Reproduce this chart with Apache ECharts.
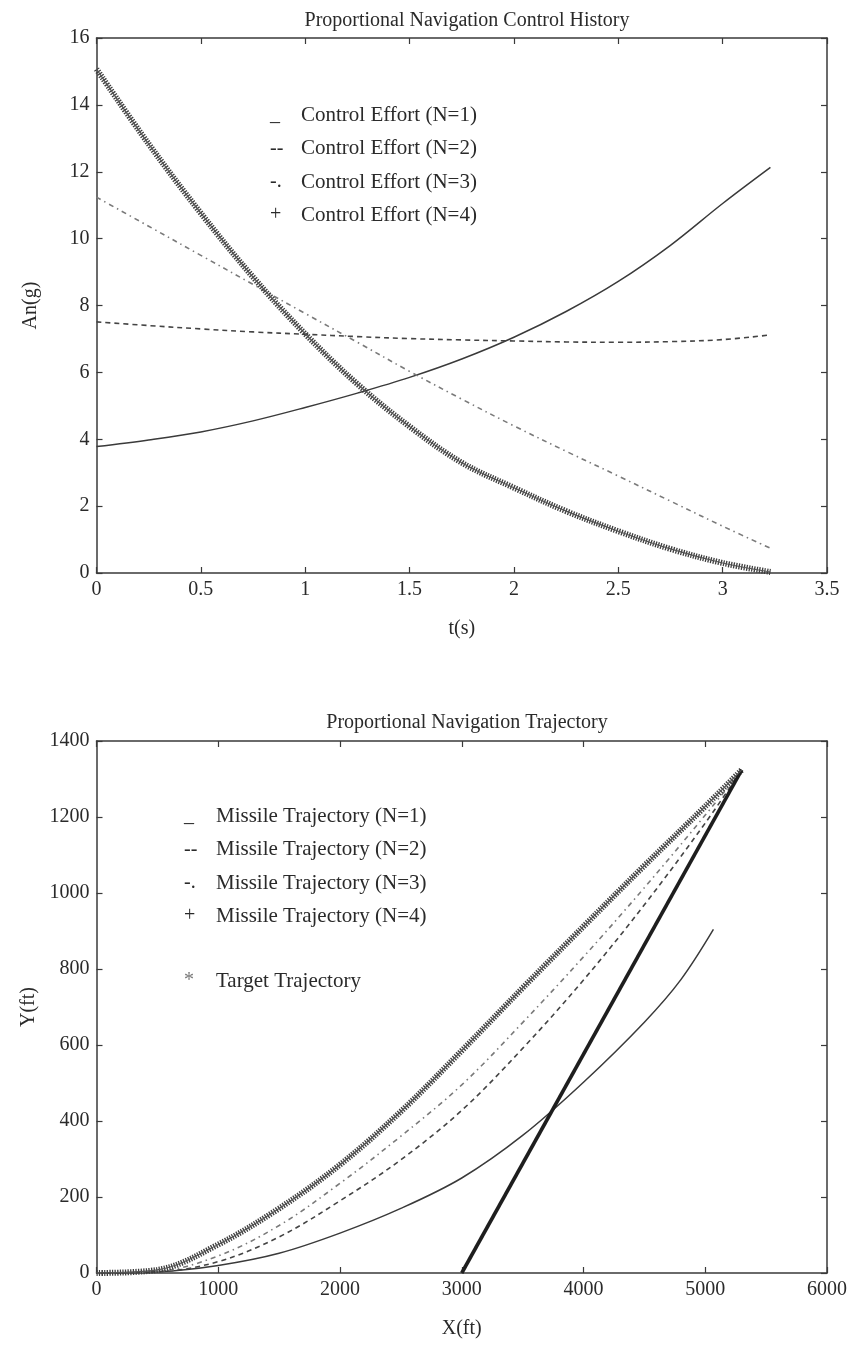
<!DOCTYPE html>
<html>
<head>
<meta charset="utf-8">
<script src="https://cdn.jsdelivr.net/npm/echarts@6/dist/echarts.min.js"></script>
<style>
  html, body { margin: 0; padding: 0; background: #fff; }
  #chart { width: 847px; height: 1353px; }
</style>
</head>
<body>
<div id="chart"></div>
<script>
// ---- Control history: time (s) and commanded acceleration An (g) per navigation ratio
const timeS = [0, 0.25, 0.5, 0.75, 1.0, 1.25, 1.5, 1.75, 2.0, 2.25, 2.5, 2.75, 3.0, 3.229];
const anN1 = [3.78, 3.98, 4.22, 4.55, 4.95, 5.38, 5.85, 6.4, 7.05, 7.82, 8.72, 9.8, 11.05, 12.13];
const anN2 = [7.51, 7.4, 7.3, 7.21, 7.14, 7.07, 7.01, 6.97, 6.94, 6.91, 6.9, 6.92, 6.98, 7.12];
const anN3 = [11.24, 10.37, 9.5, 8.63, 7.76, 6.9, 6.03, 5.2, 4.4, 3.64, 2.9, 2.15, 1.4, 0.74];
const anN4 = [15.07, 12.83, 10.76, 8.85, 7.15, 5.65, 4.38, 3.3, 2.55, 1.85, 1.25, 0.72, 0.3, 0.03];

// ---- Trajectories: X (ft) / Y (ft)
const missileX = [0, 500, 1000, 1500, 2000, 2500, 3000, 3500, 4000, 4500, 5000, 5300];
const missileN1X = [0, 500, 1000, 1500, 2000, 2500, 3000, 3500, 4000, 4500, 4800, 5067];
const missileN1Y = [0, 3, 20, 52, 105, 170, 250, 362, 502, 660, 772, 904];
const missileN2Y = [0, 3, 30, 95, 190, 298, 428, 591, 771, 969, 1184, 1324];
const missileN3Y = [0, 4, 45, 125, 236, 360, 495, 659, 832, 1014, 1205, 1324];
const missileN4Y = [0, 8, 75, 170, 285, 425, 585, 750, 912, 1072, 1228, 1324];
const targetX = [3000, 5300];
const targetY = [0, 1324];

// ---- Axis ticks
const tAxis = { min: 0, max: 3.5, step: 0.5 };
const anAxis = { min: 0, max: 16, step: 2 };
const xftAxis = { min: 0, max: 6000, step: 1000 };
const yftAxis = { min: 0, max: 1400, step: 200 };

const legendTop = ['_', '--', '-.', '+'];
const legendTopText = ['Control Effort (N=1)', 'Control Effort (N=2)', 'Control Effort (N=3)', 'Control Effort (N=4)'];
const legendBottom = ['_', '--', '-.', '+', '*'];
const legendBottomText = ['Missile Trajectory (N=1)', 'Missile Trajectory (N=2)', 'Missile Trajectory (N=3)', 'Missile Trajectory (N=4)', 'Target Trajectory'];

const FONT = '"Liberation Serif", "Times New Roman", serif';
const INK = '#2a2a2a';

const zip = (xs, ys) => xs.map((x, i) => [x, ys[i]]);

function mainAxis(pos, grid, range, name, nameGap, extra) {
  return Object.assign({
    type: 'value', gridIndex: grid, position: pos,
    min: range.min, max: range.max, interval: range.step,
    name: name, nameLocation: 'middle', nameGap: nameGap,
    nameTextStyle: { fontFamily: FONT, fontSize: 20, color: INK },
    axisLine: { show: true, onZero: false, lineStyle: { color: '#3a3a3a', width: 1.5 } },
    axisTick: { show: true, inside: true, length: 6, lineStyle: { color: '#3a3a3a', width: 1.2 } },
    axisLabel: { show: true, fontFamily: FONT, fontSize: 20, color: INK, margin: 7,
                 formatter: v => String(v) },
    splitLine: { show: false }
  }, extra || {});
}
function mirrorAxis(pos, grid, range) {
  return {
    type: 'value', gridIndex: grid, position: pos,
    min: range.min, max: range.max, interval: range.step,
    axisLine: { show: true, onZero: false, lineStyle: { color: '#3a3a3a', width: 1.5 } },
    axisTick: { show: true, inside: true, length: 6, lineStyle: { color: '#3a3a3a', width: 1.2 } },
    axisLabel: { show: false },
    splitLine: { show: false }
  };
}

function lineSeries(name, xi, yi, data, style, z) {
  return {
    name: name, type: 'line', xAxisIndex: xi, yAxisIndex: yi,
    data: data, showSymbol: false, symbol: 'none',
    smooth: 0.35,
    lineStyle: style, z: z || 2, silent: true, animation: false
  };
}

const styleSolid = { color: '#3a3a3a', width: 1.5, type: 'solid' };
const styleDash = { color: '#444', width: 1.6, type: [5, 4] };
const styleDashDot = { color: '#7a7a7a', width: 1.6, type: [5, 4, 1.5, 4] };
const stylePlusBand = { color: '#3c3c3c', width: 6, type: [1.3, 1.3] };
const stylePlusCore = { color: '#555', width: 1.2, type: 'solid' };
const styleTarget = { color: '#1e1e1e', width: 3.6, type: 'solid' };

function legendGraphics(symbols, texts, symX, textX, y0, dy, extraGap) {
  const out = [];
  symbols.forEach((s, i) => {
    const y = y0 + i * dy + (i >= 4 ? extraGap : 0);
    out.push({
      type: 'text', left: symX, top: y - 12,
      style: { text: s, font: '20px ' + FONT, fill: i === 4 ? '#777' : INK }
    });
    out.push({
      type: 'text', left: textX, top: y - 12,
      style: { text: texts[i], font: '21px ' + FONT, fill: INK }
    });
  });
  return out;
}

const chart = echarts.init(document.getElementById('chart'), null, { renderer: 'canvas' });

chart.setOption({
  backgroundColor: '#ffffff',
  animation: false,
  title: [
    { text: 'Proportional Navigation Control History', left: 462, top: 6, textAlign: 'center',
      textStyle: { fontFamily: FONT, fontSize: 20, fontWeight: 'normal', color: INK } },
    { text: 'Proportional Navigation Trajectory', left: 462, top: 708, textAlign: 'center',
      textStyle: { fontFamily: FONT, fontSize: 20, fontWeight: 'normal', color: INK } }
  ],
  grid: [
    { left: 96.5, right: 20, top: 38, height: 535, containLabel: false, outerBoundsMode: 'none' },
    { left: 96.5, right: 20, top: 741, height: 532, containLabel: false, outerBoundsMode: 'none' }
  ],
  xAxis: [
    mainAxis('bottom', 0, tAxis, 't(s)', 46),
    mirrorAxis('top', 0, tAxis),
    mainAxis('bottom', 1, xftAxis, 'X(ft)', 46),
    mirrorAxis('top', 1, xftAxis)
  ],
  yAxis: [
    mainAxis('left', 0, anAxis, 'An(g)', 56, { nameRotate: 90 }),
    mirrorAxis('right', 0, anAxis),
    mainAxis('left', 1, yftAxis, 'Y(ft)', 56, { nameRotate: 90 }),
    mirrorAxis('right', 1, yftAxis)
  ],
  series: [
    lineSeries('Control Effort (N=1)', 0, 0, zip(timeS, anN1), styleSolid, 3),
    lineSeries('Control Effort (N=2)', 0, 0, zip(timeS, anN2), styleDash, 3),
    lineSeries('Control Effort (N=3)', 0, 0, zip(timeS, anN3), styleDashDot, 3),
    lineSeries('Control Effort (N=4)', 0, 0, zip(timeS, anN4), stylePlusBand, 4),
    lineSeries('Control Effort (N=4) core', 0, 0, zip(timeS, anN4), stylePlusCore, 5),

    lineSeries('Missile Trajectory (N=1)', 2, 2, zip(missileN1X, missileN1Y), styleSolid, 3),
    lineSeries('Missile Trajectory (N=2)', 2, 2, zip(missileX, missileN2Y), styleDash, 3),
    lineSeries('Missile Trajectory (N=3)', 2, 2, zip(missileX, missileN3Y), styleDashDot, 3),
    lineSeries('Missile Trajectory (N=4)', 2, 2, zip(missileX, missileN4Y), stylePlusBand, 4),
    lineSeries('Missile Trajectory (N=4) core', 2, 2, zip(missileX, missileN4Y), stylePlusCore, 5),
    lineSeries('Target Trajectory', 2, 2, zip(targetX, targetY), styleTarget, 4)
  ],
  graphic: [
    ...legendGraphics(legendTop, legendTopText, 270, 301, 117, 33.3, 0),
    ...legendGraphics(legendBottom, legendBottomText, 184, 216, 818, 33.3, 32)
  ]
});
</script>
</body>
</html>
